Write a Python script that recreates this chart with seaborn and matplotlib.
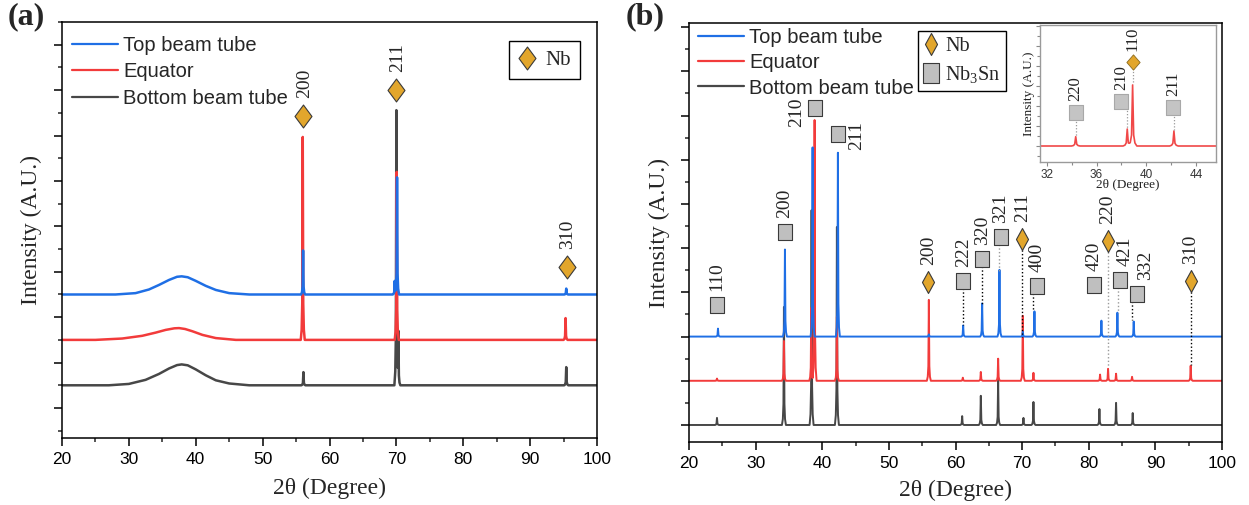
import numpy as np
import matplotlib
matplotlib.use("Agg")
import matplotlib.pyplot as plt
import seaborn as sns
from matplotlib.lines import Line2D
from matplotlib.path import Path
from matplotlib.ticker import MultipleLocator, NullFormatter

# ------------------------------------------------------------------ data
series = ["Top beam tube", "Equator", "Bottom beam tube"]
phases = ["Nb", "Nb$_\\mathrm{3}$Sn"]

# ---- panel (a): stacking offsets, amorphous hump and peaks (x = 2theta, y = intensity)
a_offset = [3500, 2500, 1500]
a_hump_x_top = [28, 31, 33, 34.5, 36, 37.2, 37.9, 38.8, 40, 41.5, 43, 45, 48]
a_hump_y_top = [0, 30, 110, 210, 320, 390, 400, 380, 300, 190, 100, 30, 0]
a_hump_x_eq = [25, 29, 32, 34, 35.5, 36.8, 37.5, 38.4, 39.5, 41, 43, 46]
a_hump_y_eq = [0, 30, 90, 160, 220, 255, 260, 240, 190, 110, 40, 0]
a_hump_x_bot = [27, 30, 32.5, 34.5, 36, 37.2, 37.9, 38.8, 40, 41.5, 43, 45, 48]
a_hump_y_bot = [0, 30, 120, 250, 370, 445, 460, 440, 350, 220, 110, 40, 0]
a_peak_x_top = [56.05, 69.75, 70.1, 95.4]
a_peak_y_top = [970, 300, 2580, 130]
a_peak_x_eq = [56.0, 70.05, 95.3]
a_peak_y_eq = [4470, 3700, 480]
a_peak_x_bot = [56.1, 70.0, 70.3, 95.4]
a_peak_y_bot = [290, 6060, 1200, 400]
# annotations (Nb reflections)
a_ann_hkl = ["200", "211", "310"]
a_ann_x = [56.0, 70.0, 95.45]
a_ann_y = [7432, 8004, 4106]

# ---- panel (b)
b_offset = [2000, 1000, 0]
b_peak_x_top = [24.35, 34.4, 38.55, 42.35, 56.0, 61.15, 64.0, 66.6, 70.1, 71.85, 81.9, 84.3, 86.75]
b_peak_y_top = [180, 1970, 4280, 4160, 50, 250, 750, 1510, 110, 570, 360, 540, 340]
b_peak_x_eq = [24.2, 34.25, 38.35, 38.85, 42.2, 56.0, 61.1, 63.8, 66.4, 70.1, 71.7, 81.7, 82.9, 84.1, 86.5, 95.3]
b_peak_y_eq = [50, 900, 1650, 5900, 1450, 1830, 70, 200, 500, 1470, 180, 140, 270, 160, 90, 340]
b_peak_x_bot = [24.2, 34.25, 38.4, 42.2, 61.0, 63.8, 66.4, 70.2, 71.7, 81.6, 84.1, 86.6]
b_peak_y_bot = [160, 2670, 4860, 4480, 200, 660, 1020, 160, 520, 360, 500, 270]
# annotations
b_ann_hkl = ["110", "200", "210", "211", "200", "222", "320", "321", "211", "400", "420", "220", "421", "332", "310"]
b_ann_phase = [1, 1, 1, 1, 0, 1, 1, 1, 0, 1, 1, 0, 1, 1, 0]
b_ann_x = [24.2, 34.4, 38.9, 42.36, 55.9, 61.17, 64.0, 66.8, 70.03, 72.3, 80.84, 82.84, 84.7, 87.25, 95.3]
b_ann_y = [2715, 4367, 7172, 6584, 3235, 3258, 3756, 4253, 4208, 3145, 3167, 4163, 3281, 2964, 3258]
b_guide_x = [None, None, None, None, None, 61.17, 63.93, 66.53, 70.03, 71.69, None, 82.84, 84.44, 86.54, 95.3]
b_guide_end = [None, None, None, None, None, 2262, 2715, 3484, 1991, 2602, None, 1312, 2534, 2376, 1357]

# ---- inset (Equator, 31.5-45.6 deg)
i_peak_x = [34.33, 38.47, 38.9, 42.22]
i_peak_y = [930, 1700, 6100, 1500]
i_ann_hkl = ["220", "210", "110", "211"]
i_ann_phase = [1, 1, 0, 1]
i_ann_x = [34.33, 38.0, 38.9, 42.17]
i_ann_y = [3400, 4500, 8400, 3900]
i_guide_x = [34.33, 38.47, 38.9, 42.22]
i_guide_end = [1000, 1800, 6200, 1600]

# ------------------------------------------------------------------ style
sns.set_theme(style="ticks")
plt.rcParams["font.family"] = ["Liberation Sans", "DejaVu Sans"]
plt.rcParams["mathtext.fontset"] = "custom"
plt.rcParams["mathtext.rm"] = "Liberation Serif"
plt.rcParams["mathtext.it"] = "Liberation Serif:italic"
plt.rcParams["axes.edgecolor"] = "black"
plt.rcParams["axes.linewidth"] = 1.1
SERIF = ["Liberation Serif", "DejaVu Serif"]

C_TOP, C_EQ, C_BOT = "#1f6fe5", "#f23b3b", "#474747"
C_NB, C_SQ, C_EDGE = "#e2a62c", "#bfbfbf", "#3a3a3a"


def diamond(aspect):
    return Path([(0, 1), (aspect, 0), (0, -1), (-aspect, 0), (0, 1)],
                [Path.MOVETO, Path.LINETO, Path.LINETO, Path.LINETO, Path.CLOSEPOLY])


def rect(aspect):
    return Path([(-aspect, -1), (aspect, -1), (aspect, 1), (-aspect, 1), (-aspect, -1)],
                [Path.MOVETO, Path.LINETO, Path.LINETO, Path.LINETO, Path.CLOSEPOLY])


def profile(px, py, w, hx=(), hy=()):
    dx = np.array([-1.0, -0.55, -0.25, 0.0, 0.25, 0.55, 1.0])
    fy = np.array([0.0, 0.05, 0.18, 1.0, 0.18, 0.05, 0.0])
    xs = [20.0, 100.0] + list(hx)
    for p in px:
        xs += list(p + dx * w)
    xs = np.unique(np.array(xs, dtype=float))
    ys = np.zeros_like(xs)
    if len(hx):
        ys += np.interp(xs, hx, hy, left=0, right=0)
    for p, h in zip(px, py):
        ys += h * np.interp(xs, p + dx * w, fy, left=0, right=0)
    return xs, ys


W, H = 1249, 505
fig = plt.figure(figsize=(W / 100, H / 100), dpi=100)


def box(l, t, r, b):
    return [l / W, 1 - b / H, (r - l) / W, (b - t) / H]


axa = fig.add_axes(box(62, 22, 597, 438))
axb = fig.add_axes(box(689, 23, 1222, 442))
axi = fig.add_axes(box(1040, 25, 1216, 162))


def style_main(ax, ylim, ylab_x, xlab_y):
    ax.set_xlim(20, 100)
    ax.set_ylim(*ylim)
    ax.xaxis.set_major_locator(MultipleLocator(10))
    ax.xaxis.set_minor_locator(MultipleLocator(5))
    ax.yaxis.set_major_locator(MultipleLocator(1000))
    ax.yaxis.set_minor_locator(MultipleLocator(500))
    ax.yaxis.set_major_formatter(NullFormatter())
    ax.tick_params(which="major", direction="out", length=6, width=1.1, labelsize=12.5, pad=4, colors="black")
    ax.tick_params(which="minor", direction="out", length=3, width=1.1)
    ax.tick_params(top=False, right=False)
    for s in ax.spines.values():
        s.set_visible(True)
        s.set_color("black")
    ax.set_xlabel("2θ (Degree)", fontsize=17, family=SERIF)
    ax.set_ylabel("Intensity (A.U.)", fontsize=17, family=SERIF)
    ax.xaxis.set_label_coords(0.5, xlab_y)
    ax.yaxis.set_label_coords(ylab_x, 0.5)


def marker_kw(phase, panel):
    if phase == 0:
        if panel == "a":
            return dict(marker=diamond(0.74), ms=16.5, mfc=C_NB, mec=C_EDGE, mew=0.8)
        if panel == "i":
            return dict(marker=diamond(0.87), ms=11, mfc=C_NB, mec="#8a6a20", mew=0.6)
        return dict(marker=diamond(0.55), ms=15.8, mfc=C_NB, mec=C_EDGE, mew=0.8)
    if panel == "i":
        return dict(marker=rect(0.93), ms=10.8, mfc="#c4c4c4", mec="#a8a8a8", mew=0.8)
    return dict(marker=rect(0.875), ms=11.5, mfc=C_SQ, mec=C_EDGE, mew=0.8)


# ------------------------------------------------------------------ panel (a)
a_sets = [
    (a_peak_x_bot, a_peak_y_bot, a_hump_x_bot, a_hump_y_bot, a_offset[2], C_BOT),
    (a_peak_x_eq, a_peak_y_eq, a_hump_x_eq, a_hump_y_eq, a_offset[1], C_EQ),
    (a_peak_x_top, a_peak_y_top, a_hump_x_top, a_hump_y_top, a_offset[0], C_TOP),
]
for px, py, hx, hy, off, col in a_sets:
    xs, ys = profile(px, py, 0.3, hx, hy)
    sns.lineplot(x=xs, y=ys + off, ax=axa, color=col, lw=1.8, estimator=None, sort=True)

for hkl, x, y in zip(a_ann_hkl, a_ann_x, a_ann_y):
    axa.plot([x], [y], ls="none", zorder=5, **marker_kw(0, "a"))
    axa.annotate(hkl, (x, y), xytext=(1, 13), textcoords="offset points", rotation=90,
                 ha="center", va="bottom", fontsize=14, family=SERIF)

style_main(axa, (339, 9502), -0.037, -0.096)

h_series = [Line2D([], [], color=c, lw=1.6) for c in (C_TOP, C_EQ, C_BOT)]
leg1 = axa.legend(h_series, series, loc="upper left", bbox_to_anchor=(0.0187, 0.966),
                  frameon=False, fontsize=14.5, handlelength=2.3, handletextpad=0.25,
                  labelspacing=0.36, borderaxespad=0, borderpad=0)
axa.add_artist(leg1)
leg2 = axa.legend([Line2D([], [], ls="none", **marker_kw(0, "a"))], [phases[0]],
                  loc="upper right", bbox_to_anchor=(0.968, 0.954), frameon=True, fancybox=False,
                  edgecolor="black", framealpha=1, borderpad=0.45, handlelength=0.9,
                  handletextpad=0.4, borderaxespad=0, prop={"family": SERIF, "size": 15})
leg2.get_frame().set_linewidth(1.0)

# ------------------------------------------------------------------ panel (b)
b_sets = [
    (b_peak_x_bot, b_peak_y_bot, b_offset[2], C_BOT),
    (b_peak_x_eq, b_peak_y_eq, b_offset[1], C_EQ),
    (b_peak_x_top, b_peak_y_top, b_offset[0], C_TOP),
]
for px, py, off, col in b_sets:
    xs, ys = profile(px, py, 0.3)
    sns.lineplot(x=xs, y=ys + off, ax=axb, color=col, lw=1.4, estimator=None, sort=True)

b_place = {2: ("left", -7, -3), 3: ("right", 7, -1), 12: ("above", 4, 10), 13: ("above", 6, 10)}
grey_guides = {7, 11, 12}
for k, (hkl, ph, x, y) in enumerate(zip(b_ann_hkl, b_ann_phase, b_ann_x, b_ann_y)):
    if b_guide_x[k] is not None:
        axb.plot([b_guide_x[k], b_guide_x[k]], [y, b_guide_end[k]], ls=(0, (1, 1.6)), lw=1.0,
                 color="#9a9a9a" if k in grey_guides else "black", zorder=4)
    axb.plot([x], [y], ls="none", zorder=5, **marker_kw(ph, "b"))
    place, dx, dy = b_place.get(k, ("above", 0, 10 if ph == 1 else 12))
    if place == "above":
        axb.annotate(hkl, (x, y), xytext=(dx, dy), textcoords="offset points", rotation=90,
                     ha="center", va="bottom", fontsize=14, family=SERIF)
    elif place == "left":
        axb.annotate(hkl, (x, y), xytext=(dx, dy), textcoords="offset points", rotation=90,
                     ha="right", va="center", fontsize=14, family=SERIF)
    else:
        axb.annotate(hkl, (x, y), xytext=(dx, dy), textcoords="offset points", rotation=90,
                     ha="left", va="center", fontsize=14, family=SERIF)

style_main(axb, (-385, 9095), -0.036, -0.091)

leg3 = axb.legend(h_series, series, loc="upper left", bbox_to_anchor=(0.017, 0.987),
                  frameon=False, fontsize=14.5, handlelength=2.3, handletextpad=0.25,
                  labelspacing=0.3, borderaxespad=0, borderpad=0)
axb.add_artist(leg3)
h_phase = [Line2D([], [], ls="none", **marker_kw(0, "b")),
           Line2D([], [], ls="none", marker=rect(0.75), ms=14.5, mfc=C_SQ, mec=C_EDGE, mew=0.8)]
leg4 = axb.legend(h_phase, phases, loc="upper left", bbox_to_anchor=(0.4296, 0.981),
                  frameon=True, fancybox=False, edgecolor="black", framealpha=1,
                  borderpad=0.3, handlelength=0.7, handletextpad=0.35, labelspacing=0.4,
                  borderaxespad=0, prop={"family": SERIF, "size": 14.5})
leg4.get_frame().set_linewidth(1.0)

# ------------------------------------------------------------------ inset
xs, ys = profile(i_peak_x, i_peak_y, 0.34)
sns.lineplot(x=xs, y=ys, ax=axi, color="#f04848", lw=1.2, estimator=None, sort=True)
for k, (hkl, ph, x, y) in enumerate(zip(i_ann_hkl, i_ann_phase, i_ann_x, i_ann_y)):
    axi.plot([i_guide_x[k], i_guide_x[k]], [y, i_guide_end[k]], ls=(0, (1, 1.5)), lw=0.9,
             color="#9a9a9a", zorder=4)
    axi.plot([x], [y], ls="none", zorder=5, **marker_kw(ph, "i"))
    axi.annotate(hkl, (x, y), xytext=(0, 8), textcoords="offset points", rotation=90,
                 ha="center", va="bottom", fontsize=12, family=SERIF, color="#222222")
axi.set_xlim(31.46, 45.6)
axi.set_ylim(-1600, 12100)
axi.xaxis.set_major_locator(MultipleLocator(4))
axi.xaxis.set_minor_locator(MultipleLocator(2))
axi.yaxis.set_major_locator(MultipleLocator(2000))
axi.yaxis.set_minor_locator(MultipleLocator(1000))
axi.yaxis.set_major_formatter(NullFormatter())
axi.tick_params(which="major", direction="out", length=3, width=0.8, labelsize=8.5, pad=2,
                color="#8a8a8a", labelcolor="#333333")
axi.tick_params(which="minor", direction="out", length=2, width=0.8, color="#8a8a8a")
axi.tick_params(top=False, right=False)
for s in axi.spines.values():
    s.set_visible(True)
    s.set_color("#9a9a9a")
    s.set_linewidth(1.0)
axi.set_xlabel("2θ (Degree)", fontsize=9.5, family=SERIF, color="#222222")
axi.set_ylabel("Intensity (A.U.)", fontsize=9.5, family=SERIF, color="#222222")
axi.xaxis.set_label_coords(0.5, -0.125)
axi.yaxis.set_label_coords(-0.03, 0.5)

# ------------------------------------------------------------------ panel tags
fig.text(8 / W, 1 - 2 / H, "(a)", fontsize=23, fontweight="bold", family=SERIF, va="top", ha="left")
fig.text(626 / W, 1 - 2 / H, "(b)", fontsize=23, fontweight="bold", family=SERIF, va="top", ha="left")

fig.savefig("out.png", dpi=100)
